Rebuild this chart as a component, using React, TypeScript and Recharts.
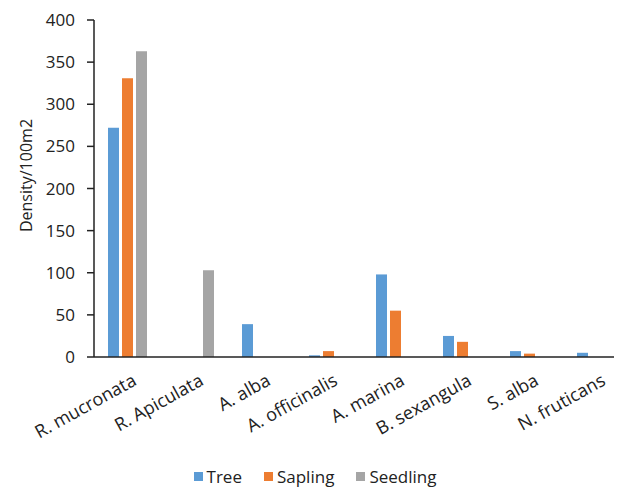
import React from 'react';
import { BarChart, Bar, XAxis, YAxis, Legend } from 'recharts';

const categories = ['R. mucronata', 'R. Apiculata', 'A. alba', 'A. officinalis', 'A. marina', 'B. sexangula', 'S. alba', 'N. fruticans'];
const tree = [272, 0, 39, 2, 98, 25, 7, 5];
const sapling = [331, 0, 0, 7, 55, 18, 4, 0];
const seedling = [363, 103, 0, 0, 0, 0, 0, 0];
const yTicks = [0, 50, 100, 150, 200, 250, 300, 350, 400];
const seriesNames = ['Tree', 'Sapling', 'Seedling'];
const colors = ['#5B9BD5', '#ED7D31', '#A5A5A5'];

const data = categories.map((c, i) => ({ name: c, Tree: tree[i], Sapling: sapling[i], Seedling: seedling[i] }));

const FONT = '"Open Sans", sans-serif';

const XTick = (props: any) => {
  const { x, y, payload } = props;
  return (
    <g transform={`translate(${x + 4},${y}) rotate(-29)`}>
      <text x={0} y={0} dy="0.71em" textAnchor="end" fill="#222" fontSize={18} fontFamily={FONT}>
        {payload.value}
      </text>
    </g>
  );
};

const LegendContent = () => (
  <div style={{ display: 'flex', justifyContent: 'center', fontFamily: FONT, fontSize: 17, color: '#222' }}>
    {seriesNames.map((n, i) => (
      <div key={n} style={{ display: 'flex', alignItems: 'center', marginRight: i < 2 ? 22 : 0 }}>
        <span style={{ display: 'inline-block', width: 9, height: 9, background: colors[i], marginRight: 4 }} />
        <span>{n}</span>
      </div>
    ))}
  </div>
);

export default function App() {
  return (
    <div style={{ width: 614, height: 480, overflow: 'hidden', position: 'relative' }}>
      <BarChart
        width={624}
        height={472}
        data={data}
        margin={{ top: 12, right: 2, left: 0, bottom: 10 }}
        barSize={11}
        barGap={3}
      >
        <XAxis
          dataKey="name"
          interval={0}
          height={90}
          tickLine={false}
          axisLine={{ stroke: '#222', strokeWidth: 1.5 }}
          tick={<XTick />}
          tickMargin={10}
        />
        <YAxis
          width={86}
          domain={[0, 400]}
          ticks={yTicks}
          interval={0}
          tickSize={7}
          tickMargin={12}
          axisLine={{ stroke: '#222', strokeWidth: 1.5 }}
          tickLine={{ stroke: '#222', strokeWidth: 1.5 }}
          tick={{ fill: '#222', fontSize: 17, fontFamily: FONT }}
          label={{ value: 'Density/100m2', angle: -90, position: 'insideLeft', dx: 13, dy: -13, style: { fill: '#222', fontSize: 16, fontFamily: FONT, textAnchor: 'middle' } }}
        />
        <Legend content={<LegendContent />} wrapperStyle={{ position: 'absolute', left: 0, width: 614, top: 457 }} />
        <Bar dataKey="Tree" fill={colors[0]} isAnimationActive={false} />
        <Bar dataKey="Sapling" fill={colors[1]} isAnimationActive={false} />
        <Bar dataKey="Seedling" fill={colors[2]} isAnimationActive={false} />
      </BarChart>
    </div>
  );
}
